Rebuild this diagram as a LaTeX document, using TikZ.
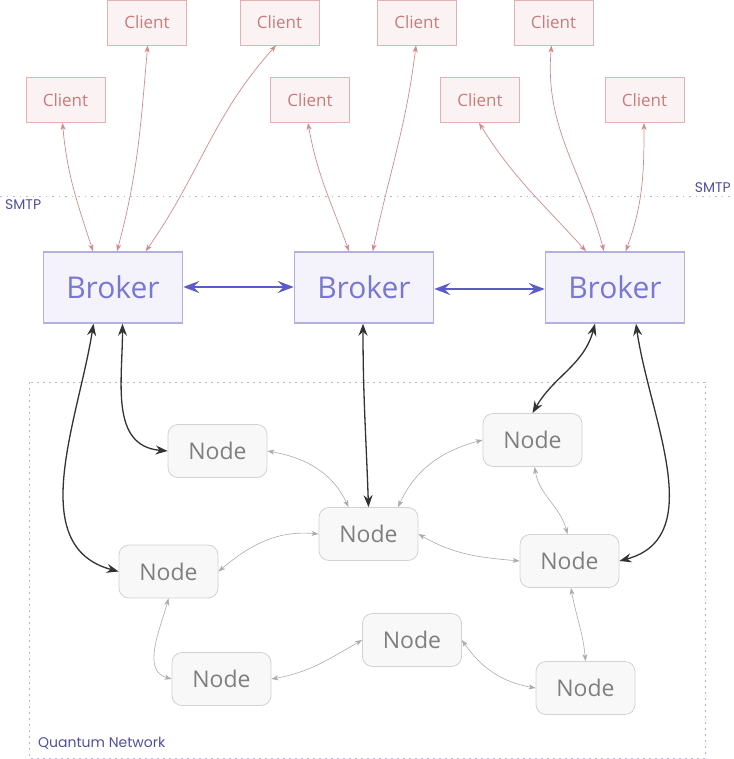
\documentclass[tikz,border=0pt]{standalone}
\usepackage{fontspec}
\setmainfont{Open Sans}
\newfontfamily\labelfont{Poppins}
\usetikzlibrary{arrows.meta}

\definecolor{clientfill}{HTML}{FBF3F3}
\definecolor{clientline}{HTML}{E2B1B1}
\definecolor{clienttext}{HTML}{C97B7B}
\definecolor{clientarrow}{HTML}{D48A8A}
\definecolor{brokerfill}{HTML}{F4F3FB}
\definecolor{brokerline}{HTML}{B3B0DE}
\definecolor{brokertext}{HTML}{7878D2}
\definecolor{brokerarrow}{HTML}{5C5CC9}
\definecolor{nodefill}{HTML}{F8F8F8}
\definecolor{nodeline}{HTML}{D2D2D2}
\definecolor{nodetext}{HTML}{7F7F7F}
\definecolor{nodearrow}{HTML}{ABABAB}
\definecolor{zoneline}{HTML}{B4B2EE}
\definecolor{zonetext}{HTML}{4F4F9E}

\begin{document}
\begin{tikzpicture}[x=1pt,y=1pt,
    client/.style={draw=clientline,fill=clientfill,text=clienttext,line width=0.8pt,
      minimum width=79pt,minimum height=45pt,font=\fontsize{17}{20}\selectfont},
    broker/.style={draw=brokerline,fill=brokerfill,text=brokertext,line width=1.5pt,
      minimum width=139pt,minimum height=71pt,font=\fontsize{30}{36}\selectfont},
    qnode/.style={draw=nodeline,fill=nodefill,text=nodetext,line width=0.8pt,rounded corners=10pt,
      minimum width=99pt,minimum height=53pt,font=\fontsize{23}{28}\selectfont},
    zone/.style={text=zonetext,inner sep=0pt,font=\labelfont\fontsize{14}{16}\selectfont},
    clientlink/.style={draw=clientarrow,line width=0.7pt,>={Stealth[length=7pt,width=5pt,inset=2pt]},<->},
    brokerlink/.style={draw=brokerarrow,line width=2pt,>={Stealth[length=16pt,width=12pt,inset=6pt]},<->},
    hostlink/.style={draw=black!80,line width=1.3pt,>={Stealth[length=12pt,width=9pt,inset=4pt]},<->},
    peerlink/.style={draw=nodearrow,line width=0.6pt,>={Stealth[length=7pt,width=5pt,inset=2pt]},<->}]
    \useasboundingbox (0,0) rectangle (733,-759);

    % 区域
    \draw[zoneline,line width=0.8pt,dash pattern=on 1.5pt off 5pt] (0,-196) -- (733,-196);
    \draw[zoneline,line width=0.8pt,dash pattern=on 2pt off 4pt] (29,-382) rectangle (705,-758);
    \node[zone,anchor=north west] (smtpl) at (5,-199) {SMTP};
    \node[zone,anchor=south east] (smtpr) at (731,-193) {SMTP};
    \node[zone,anchor=south west] (qlabel) at (38,-750) {Quantum Network};

    % 客户端
    \foreach \n/\x/\y in {1/65.5/100, 2/147/22.5, 3/279.5/22.5, 4/310/100,
                          5/417/22.5, 6/553.5/22.5, 7/480/100, 8/644.5/100}
      \node[client] (c\n) at (\x,-\y) {Client};

    % 代理
    \node[broker] (b1) at (113,-287.5) {Broker};
    \node[broker] (b2) at (364,-287.5) {Broker};
    \node[broker] (b3) at (615,-287.5) {Broker};

    % 网络节点
    \node[qnode] (n1) at (217.5,-451) {Node};
    \node[qnode] (n2) at (368.5,-534) {Node};
    \node[qnode] (n3) at (532.5,-440) {Node};
    \node[qnode] (n4) at (168.5,-571.5) {Node};
    \node[qnode] (n5) at (569.5,-561) {Node};
    \node[qnode] (n6) at (412,-640) {Node};
    \node[qnode] (n7) at (221.5,-679) {Node};
    \node[qnode] (n8) at (585.5,-688) {Node};

    % 客户端连线
    \foreach \c/\s/\b/\e/\o/\i in {1/-3/1/-20/-85/108, 2/0.7/1/4/-95/75, 3/-3.5/1/32.7/-132/55,
                                   4/-2/2/-15/-80/110, 5/-1/2/8.7/-97/78, 7/-1/3/-29/-58/132,
                                   6/-2/3/-11/-95/105, 8/-0.5/3/10.7/-90/70}
      \draw[clientlink] ([xshift=\s pt]c\c.south) to[out=\o,in=\i] ([xshift=\e pt]b\b.north);

    % 代理之间
    \draw[brokerlink] ([yshift=0.5pt]b1.east) -- ([yshift=0.5pt]b2.west);
    \draw[brokerlink] ([yshift=-1.5pt]b2.east) -- ([yshift=-1.5pt]b3.west);

    % 代理到节点
    \draw[hostlink] ([xshift=-19.5pt]b1.south) to[out=-99,in=165] (n4.west);
    \draw[hostlink] ([xshift=9.5pt]b1.south) to[out=-90,in=175,looseness=1.1] (n1.west);
    \draw[hostlink] ([xshift=-1pt]b2.south) to[out=-90,in=92] (n2.north);
    \draw[hostlink] ([xshift=-20pt]b3.south) to[out=-105,in=60] (n3.north);
    \draw[hostlink] ([xshift=21pt]b3.south) to[out=-82,in=15] (n5.east);

    % 节点之间
    \draw[peerlink] (n1.east) to[out=-10,in=115] ([xshift=-20pt]n2.north);
    \draw[peerlink] (n3.west) to[out=195,in=65] ([xshift=29.5pt]n2.north);
    \draw[peerlink] (n2.west) to[out=175,in=40] (n4.east);
    \draw[peerlink] (n2.east) to[out=-30,in=175] (n5.west);
    \draw[peerlink] ([xshift=2pt]n3.south) to[out=-80,in=105] ([xshift=-2pt]n5.north);
    \draw[peerlink] (n4.south) to[out=-105,in=165] (n7.west);
    \draw[peerlink] (n7.east) to[out=10,in=210] (n6.west);
    \draw[peerlink] (n6.east) to[out=-55,in=170] (n8.west);
    \draw[peerlink] ([xshift=1.5pt]n5.south) to[out=-80,in=95] (n8.north);
\end{tikzpicture}
\end{document}
